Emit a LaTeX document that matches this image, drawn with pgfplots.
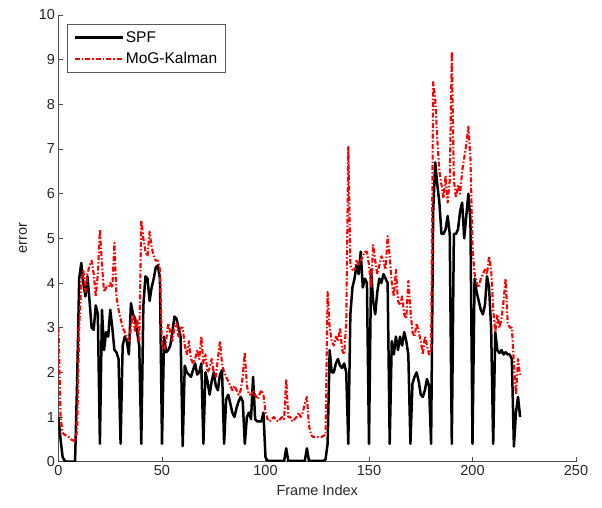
\documentclass[border=0pt]{standalone}
\usepackage{fontspec}
\setmainfont{Liberation Sans}
\usepackage{pgfplots}
\usepackage{pgfplotstable}
\pgfplotsset{compat=1.18}

% frame, SPF error, MoG-Kalman error
\pgfplotstableread{
x spf mog
0 1.00 3.00
1 0.50 1.00
2 0.10 0.65
3 0.02 0.60
4 0.00 0.58
5 0.00 0.55
6 0.00 0.50
7 0.00 0.48
8 0.00 0.45
9 1.80 0.70
10 4.10 3.00
11 4.45 4.00
12 4.00 4.30
13 3.70 3.80
14 4.15 4.20
15 3.60 4.40
16 3.00 4.50
17 2.95 4.20
18 3.50 3.70
19 3.30 4.20
20 0.40 5.20
21 3.40 4.40
22 2.50 3.80
23 2.90 3.90
24 2.80 3.90
25 3.40 4.00
26 3.00 3.90
27 2.50 4.90
28 2.45 3.70
29 2.30 3.40
30 0.40 3.20
31 2.60 3.00
32 2.80 2.90
33 2.70 2.80
34 2.40 2.70
35 3.55 3.00
36 3.30 3.30
37 3.20 2.90
38 2.90 3.20
39 2.60 2.70
40 0.40 5.40
41 3.50 5.00
42 4.15 4.70
43 4.10 4.60
44 3.60 5.15
45 3.90 4.80
46 4.10 4.60
47 4.35 4.50
48 4.40 4.50
49 4.10 4.30
50 0.40 2.60
51 2.80 2.50
52 2.45 2.70
53 2.50 3.10
54 2.60 2.90
55 2.90 2.70
56 3.25 3.00
57 3.20 3.10
58 3.00 2.80
59 2.80 3.00
60 0.35 3.00
61 2.15 2.60
62 2.00 2.40
63 1.95 2.70
64 1.90 2.30
65 2.05 2.20
66 2.20 2.30
67 1.95 2.50
68 2.00 2.30
69 2.20 2.80
70 0.40 2.20
71 2.00 2.40
72 1.80 2.00
73 1.50 2.10
74 1.80 2.30
75 2.00 2.00
76 1.70 1.90
77 1.60 2.30
78 1.95 2.70
79 2.05 2.20
80 0.40 2.00
81 1.40 1.90
82 1.50 1.80
83 1.30 1.70
84 1.10 1.60
85 1.00 1.70
86 1.20 1.60
87 1.35 1.50
88 1.45 1.60
89 1.35 1.90
90 0.40 2.45
91 1.00 1.70
92 1.10 1.50
93 0.95 1.50
94 1.90 1.60
95 0.95 1.50
96 0.90 1.40
97 0.90 1.50
98 0.90 1.60
99 1.10 1.50
100 0.10 1.10
101 0.02 0.95
102 0.02 0.90
103 0.02 0.95
104 0.02 1.00
105 0.02 0.95
106 0.02 0.90
107 0.02 0.95
108 0.02 1.00
109 0.02 0.95
110 0.30 1.85
111 0.02 1.00
112 0.02 1.00
113 0.02 0.90
114 0.02 0.95
115 0.02 1.00
116 0.02 1.10
117 0.02 1.00
118 0.02 1.10
119 0.02 1.30
120 0.30 1.45
121 0.02 0.80
122 0.02 0.60
123 0.02 0.55
124 0.02 0.55
125 0.02 0.55
126 0.02 0.55
127 0.02 0.55
128 0.02 0.58
129 0.05 0.60
130 0.40 3.80
131 2.50 3.00
132 2.00 2.70
133 2.00 2.60
134 2.20 2.80
135 2.30 2.70
136 2.15 3.00
137 2.10 2.50
138 2.20 2.40
139 2.00 3.10
140 0.40 7.05
141 3.30 4.40
142 3.90 4.30
143 4.10 4.30
144 4.40 4.50
145 4.20 4.40
146 4.70 4.50
147 3.90 4.60
148 4.10 4.70
149 4.00 4.70
150 0.40 4.40
151 4.30 3.90
152 3.60 4.85
153 3.30 4.50
154 3.80 4.20
155 4.10 4.40
156 4.00 4.60
157 4.20 4.50
158 4.10 4.30
159 4.00 5.05
160 0.40 4.60
161 2.70 4.00
162 2.40 3.70
163 2.80 4.30
164 2.50 3.60
165 2.80 3.50
166 2.60 3.70
167 2.90 3.30
168 2.70 3.20
169 2.40 4.05
170 0.40 3.40
171 1.75 2.90
172 1.90 2.80
173 2.00 3.10
174 1.80 2.90
175 1.50 2.70
176 1.45 2.40
177 1.60 2.80
178 1.85 2.60
179 1.70 2.40
180 0.40 2.50
181 5.60 8.50
182 6.70 8.10
183 6.20 7.20
184 5.80 6.50
185 5.10 6.20
186 5.10 5.90
187 5.20 6.40
188 5.50 5.80
189 5.10 6.30
190 0.40 9.18
191 5.10 6.30
192 5.10 5.90
193 5.20 6.20
194 5.60 6.00
195 5.80 6.50
196 5.00 6.80
197 5.50 7.10
198 6.00 7.50
199 5.40 6.80
200 0.40 4.80
201 4.10 4.20
202 3.80 4.00
203 3.60 3.90
204 3.40 4.10
205 3.30 4.20
206 3.50 4.30
207 4.15 4.20
208 3.90 4.60
209 3.00 4.30
210 0.40 3.40
211 2.90 2.90
212 2.50 3.30
213 2.43 3.00
214 2.50 3.20
215 2.40 3.60
216 2.45 4.10
217 2.40 3.10
218 2.40 3.00
219 2.30 3.00
220 0.34 2.20
221 1.10 1.50
222 1.45 2.30
223 1.00 1.90
}\errdata

\begin{document}
\begin{tikzpicture}
\begin{axis}[
  scale only axis, width=517.5pt, height=446.7pt,
  xmin=0, xmax=250, ymin=0, ymax=10,
  axis lines=left, axis line style={-, black!70, line width=0.8pt},
  xtick={0,50,...,250}, ytick={0,1,...,10},
  tick align=inside, major tick length=5pt,
  tick style={black!70, line width=0.8pt},
  ticklabel style={font=\fontsize{14.5}{16}\selectfont, text=black!85},
  /pgf/number format/assume math mode=true,
  xlabel={Frame Index}, ylabel={error},
  label style={font=\fontsize{14.5}{16}\selectfont, text=black!85},
  xlabel style={yshift=-3pt},
  ylabel style={yshift=5pt},
  legend style={at={(0.0164,0.98)}, anchor=north west, draw=black!65,
    line width=0.8pt, font=\fontsize{15.5}{17}\selectfont,
    inner xsep=6pt, inner ysep=5pt, row sep=5pt, cells={anchor=west}},
  legend image code/.code={\draw[#1] (0pt,0pt) -- (48pt,0pt);},
]
  \addplot[black, line width=2.5pt, line join=round] table[x=x, y=spf] {\errdata};
  \addplot[red, line width=2.1pt, line join=round,
    dash pattern=on 5pt off 2pt on 1.5pt off 2pt] table[x=x, y=mog] {\errdata};
  \legend{SPF, MoG-Kalman}
\end{axis}
\pgfresetboundingbox
\path (-58.5pt,-46.3pt) rectangle (543.5pt,461.7pt);
\end{tikzpicture}
\end{document}
